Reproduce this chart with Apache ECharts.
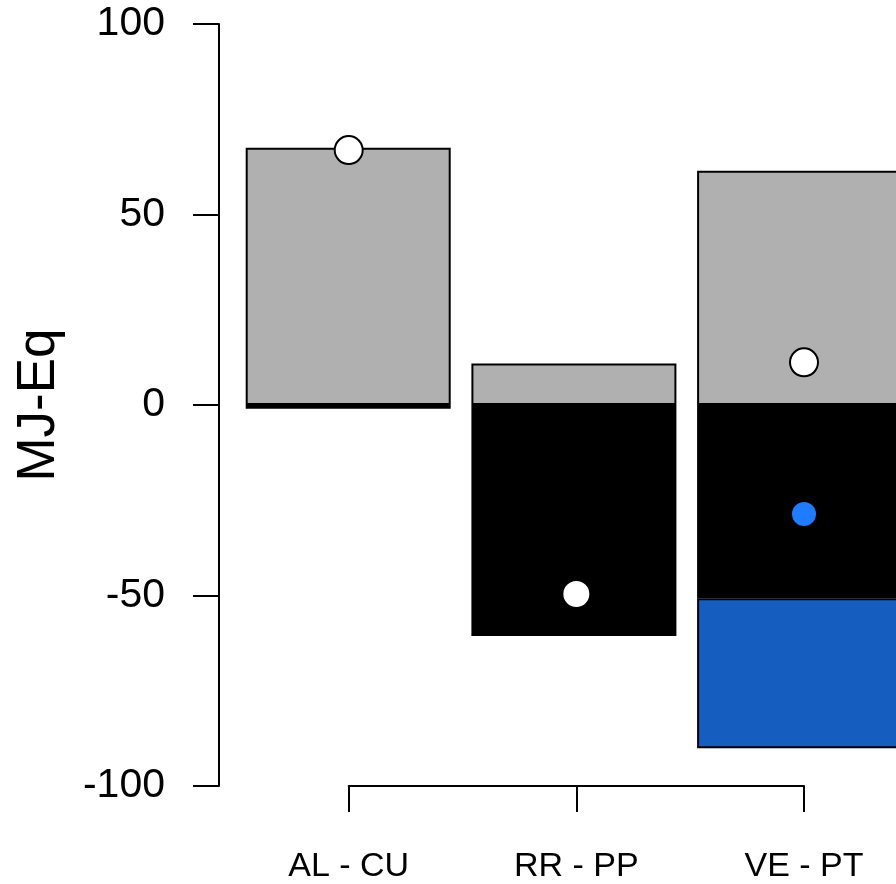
<!DOCTYPE html>
<html>
<head>
<meta charset="utf-8">
<script src="https://cdn.jsdelivr.net/npm/echarts@6/dist/echarts.min.js"></script>
<style>html,body{margin:0;padding:0;background:#fff}#c{width:896px;height:884px}</style>
</head>
<body>
<div id="c"></div>
<script>
const categories = ['AL - CU', 'RR - PP', 'VE - PT'];
const greyValues = [67.5, 10.9, 61.5];
const blackValues = [-1.0, -60.6, -50.7];
const blueValues = [null, null, -39.4];
const whiteDots = [66.9, -49.6, 11.2];
const blueDots = [null, null, -28.6];
const yTicks = { min: -100, max: 100, interval: 50 };

const FONT = '"Liberation Sans", Arial, Helvetica, sans-serif';
const chart = echarts.init(document.getElementById('c'), null, { renderer: 'canvas' });
const barStyle = (c) => ({ color: c, borderColor: '#000', borderWidth: 2 });

chart.setOption({
  animation: false,
  backgroundColor: '#fff',
  grid: [
    { left: 348.2, right: 96.4, top: 24, bottom: 98, containLabel: false },
    { left: 348.7, right: 92, top: 24, bottom: 98, containLabel: false }
  ],
  xAxis: [
    { type: 'category', data: categories, gridIndex: 0, boundaryGap: false, show: false },
    {
      type: 'category', data: categories, gridIndex: 1, boundaryGap: false, position: 'bottom',
      axisLine: { show: true, onZero: false, lineStyle: { color: '#000', width: 2 } },
      axisTick: { show: true, length: 26, lineStyle: { color: '#000', width: 2 } },
      axisLabel: { show: true, color: '#000', fontFamily: FONT, fontSize: 34, margin: 64 },
      splitLine: { show: false }
    }
  ],
  yAxis: [
    {
      type: 'value', gridIndex: 0, min: yTicks.min, max: yTicks.max, interval: yTicks.interval,
      offset: 129.2,
      name: 'MJ-Eq', nameLocation: 'middle', nameRotate: 90, nameGap: 153,
      nameTextStyle: { color: '#000', fontFamily: FONT, fontSize: 53 },
      axisLine: { show: true, onZero: false, lineStyle: { color: '#000', width: 2 } },
      axisTick: { show: true, length: 26, lineStyle: { color: '#000', width: 2 } },
      axisLabel: { color: '#000', fontFamily: FONT, fontSize: 41, margin: 54 },
      splitLine: { show: false }
    },
    { type: 'value', gridIndex: 1, min: yTicks.min, max: yTicks.max, show: false, splitLine: { show: false } }
  ],
  series: [
    { type: 'bar', name: 'grey', xAxisIndex: 0, yAxisIndex: 0, stack: 's', data: greyValues, barWidth: 205, itemStyle: barStyle('#b0b0b0'), clip: false },
    { type: 'bar', name: 'black', xAxisIndex: 0, yAxisIndex: 0, stack: 's', data: blackValues, barWidth: 205, itemStyle: barStyle('#000000'), clip: false },
    { type: 'bar', name: 'blue', xAxisIndex: 0, yAxisIndex: 0, stack: 's', data: blueValues, barWidth: 205, itemStyle: barStyle('#165dc0'), clip: false },
    { type: 'scatter', name: 'total', xAxisIndex: 1, yAxisIndex: 1, data: whiteDots, symbol: 'circle', symbolSize: 28, itemStyle: { color: '#fff', borderColor: '#000', borderWidth: 2, opacity: 1 }, z: 5 },
    { type: 'scatter', name: 'blue', xAxisIndex: 1, yAxisIndex: 1, data: blueDots, symbol: 'circle', symbolSize: 26, itemStyle: { color: '#1f7bff', borderColor: '#000', borderWidth: 2, opacity: 1 }, z: 5 }
  ]
});
</script>
</body>
</html>
